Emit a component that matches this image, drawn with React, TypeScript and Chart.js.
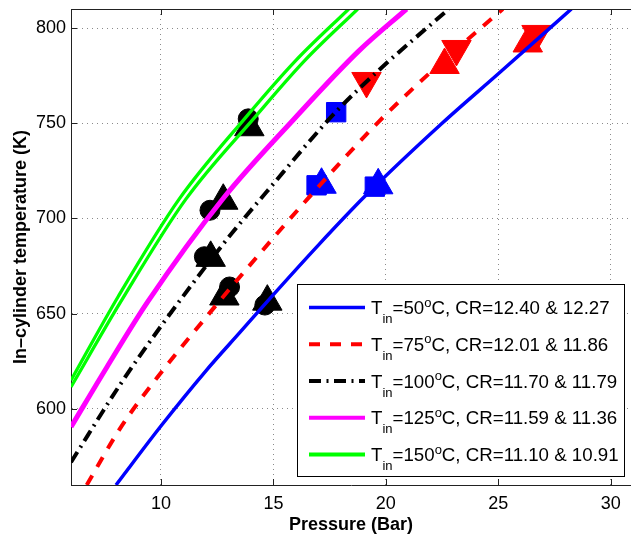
import React, { useEffect, useRef } from 'react';
import { Chart, registerables } from 'chart.js';

Chart.register(...registerables);

// Axes
const X_MIN = 6;
const X_MAX = 30.9;
const Y_MIN = 560;
const Y_MAX = 810;
const X_TICKS = [10, 15, 20, 25, 30];
const Y_TICKS = [600, 650, 700, 750, 800];

// Curves (pressure in bar, temperature in K)
const P_50 = [8.0, 10, 12, 13.5, 15, 17, 19.1, 22.5, 25, 28.25];
const T_50 = [560, 591, 620, 640, 660, 686, 712, 750, 776, 810];

const P_75 = [6.7, 8.2, 10, 12, 13.2, 16.5, 19.7, 22.1, 25.2];
const T_75 = [560, 590, 619, 648, 665, 710, 751, 778, 810];

const P_100 = [6.0, 8.2, 10.1, 13.0, 14.7, 17.7, 19.7, 22.8];
const T_100 = [572, 613, 645, 690, 714, 755, 778, 810];

const P_125 = [6.0, 7.6, 9.4, 12.8, 15.9, 18.8, 20.92];
const T_125 = [590.5, 622, 656, 711, 752, 788, 810];

const P_150A = [6.0, 8.1, 10.8, 13.8, 16.0, 18.35];
const T_150A = [615, 659, 710, 753.5, 783, 810];
const P_150B = [6.0, 8.2, 11.1, 14.2, 16.4, 18.75];
const T_150B = [611.5, 656, 710, 753.5, 783, 810];

// Marker points
const BLACK_CIRCLE_P = [13.88, 12.18, 11.93, 13.05, 14.62];
const BLACK_CIRCLE_T = [752.3, 704.3, 679.9, 664, 654.5];
const BLACK_TRI_P = [13.93, 12.77, 12.21, 12.82, 14.73];
const BLACK_TRI_T = [747.9, 709.3, 679.3, 659, 656.3];

const BLUE_SQ_P = [17.79, 16.92, 19.51];
const BLUE_SQ_T = [755.8, 717.4, 716.7];
const BLUE_TRI_P = [17.14, 19.66];
const BLUE_TRI_T = [717.7, 717.4];

const RED_DOWN_P = [19.14, 23.14, 26.7];
const RED_DOWN_T = [772.2, 789, 796.9];
const RED_UP_P = [22.61, 26.31];
const RED_UP_T = [780.6, 791.9];

// Legend
const TEMPS = ['50', '75', '100', '125', '150'];
const CR_A = ['12.40', '12.01', '11.70', '11.59', '11.10'];
const CR_B = ['12.27', '11.86', '11.79', '11.36', '10.91'];
const COLORS = ['#0000ff', '#ff0000', '#000000', '#ff00ff', '#00ff00'];
const DASHES: number[][] = [[], [11, 10], [12, 5.5, 2, 5.5], [], []];
const WIDTHS = [3.5, 4, 4, 5, 3.3];
const LEGEND_WIDTHS = [3.5, 4, 4, 4, 4];

const FONT = '"Liberation Sans", Arial, Helvetica, sans-serif';

const pts = (xs: number[], ys: number[]) => xs.map((x, i) => ({ x, y: ys[i] }));

const lineDs = (xs: number[], ys: number[], idx: number) => ({
  data: pts(xs, ys),
  showLine: true,
  borderColor: COLORS[idx],
  backgroundColor: COLORS[idx],
  borderWidth: WIDTHS[idx],
  borderDash: DASHES[idx],
  pointRadius: 0,
  cubicInterpolationMode: 'monotone' as const,
  order: 0,
});

const markerDs = (xs: number[], ys: number[], color: string, style: string, radius: number, rotation = 0) => ({
  data: pts(xs, ys),
  showLine: false,
  pointStyle: style,
  pointRadius: radius,
  pointRotation: rotation,
  pointBackgroundColor: color,
  pointBorderColor: color,
  pointBorderWidth: 1,
  order: 1,
});

const zeroPad = (s: any) => {
  s.paddingTop = 0;
  s.paddingBottom = 0;
  s.paddingLeft = 0;
  s.paddingRight = 0;
};

const framePlugin = {
  id: 'frame',
  afterDatasetsDraw(chart: any) {
    const { ctx, chartArea: a, scales } = chart;
    ctx.save();
    ctx.strokeStyle = '#222';
    ctx.lineWidth = 1;
    ctx.setLineDash([]);
    ctx.beginPath();
    ctx.moveTo(a.left, Math.round(a.top) + 0.5);
    ctx.lineTo(a.right, Math.round(a.top) + 0.5);
    X_TICKS.forEach((v) => {
      const x = Math.round(scales.x.getPixelForValue(v)) + 0.5;
      ctx.moveTo(x, a.bottom);
      ctx.lineTo(x, a.bottom - 6);
      ctx.moveTo(x, a.top);
      ctx.lineTo(x, a.top + 6);
    });
    Y_TICKS.forEach((v) => {
      const y = Math.round(scales.y.getPixelForValue(v)) + 0.5;
      ctx.moveTo(a.left, y);
      ctx.lineTo(a.left + 6, y);
    });
    ctx.stroke();
    ctx.restore();
  },
};

const legendPlugin = {
  id: 'texLegend',
  afterDraw(chart: any) {
    const { ctx, chartArea: a } = chart;
    const bx = Math.round(a.right - 334) + 0.5;
    const by = Math.round(a.bottom - 201) + 0.5;
    const bw = 327;
    const bh = 192;
    ctx.save();
    ctx.fillStyle = '#ffffff';
    ctx.fillRect(bx, by, bw, bh);
    ctx.strokeStyle = '#000';
    ctx.lineWidth = 1;
    ctx.setLineDash([]);
    ctx.strokeRect(bx, by, bw, bh);
    const main = `18.7px ${FONT}`;
    const small = `13px ${FONT}`;
    TEMPS.forEach((t, i) => {
      const ly = by + 23 + i * 36.75;
      ctx.beginPath();
      ctx.setLineDash(DASHES[i]);
      ctx.strokeStyle = COLORS[i];
      ctx.lineWidth = LEGEND_WIDTHS[i];
      ctx.moveTo(bx + 11.5, ly);
      ctx.lineTo(bx + 67.5, ly);
      ctx.stroke();
      ctx.setLineDash([]);
      const base = ly + 6.5;
      let x = bx + 73.5;
      ctx.fillStyle = '#000';
      ctx.textAlign = 'left';
      ctx.textBaseline = 'alphabetic';
      ctx.font = main;
      ctx.fillText('T', x, base);
      x += ctx.measureText('T').width;
      ctx.font = small;
      ctx.fillText('in', x, base + 9);
      x += ctx.measureText('in').width;
      ctx.font = main;
      const s1 = '=' + t;
      ctx.fillText(s1, x, base);
      x += ctx.measureText(s1).width;
      ctx.font = small;
      ctx.fillText('o', x, base - 7.5);
      x += ctx.measureText('o').width;
      ctx.font = main;
      ctx.fillText(`C, CR=${CR_A[i]} & ${CR_B[i]}`, x, base);
    });
    ctx.restore();
  },
};

export default function App() {
  const ref = useRef<HTMLCanvasElement | null>(null);
  useEffect(() => {
    if (!ref.current) return;
    const chart = new Chart(ref.current, {
      type: 'scatter',
      data: {
        datasets: [
          lineDs(P_50, T_50, 0),
          lineDs(P_75, T_75, 1),
          lineDs(P_100, T_100, 2),
          lineDs(P_125, T_125, 3),
          lineDs(P_150A, T_150A, 4),
          lineDs(P_150B, T_150B, 4),
          markerDs(BLACK_CIRCLE_P, BLACK_CIRCLE_T, '#000000', 'circle', 10),
          markerDs(BLACK_TRI_P, BLACK_TRI_T, '#000000', 'triangle', 17),
          markerDs(BLUE_SQ_P, BLUE_SQ_T, '#0000ff', 'rect', 13.7),
          markerDs(BLUE_TRI_P, BLUE_TRI_T, '#0000ff', 'triangle', 17),
          markerDs(RED_DOWN_P, RED_DOWN_T, '#ff0000', 'triangle', 17, 180),
          markerDs(RED_UP_P, RED_UP_T, '#ff0000', 'triangle', 17),
        ] as any,
      },
      options: {
        responsive: false,
        animation: false,
        devicePixelRatio: 1,
        layout: { autoPadding: false, padding: { top: 9, left: 0, right: 0, bottom: 0 } },
        plugins: { legend: { display: false }, tooltip: { enabled: false } },
        scales: {
          x: {
            type: 'linear',
            min: X_MIN,
            max: X_MAX,
            afterBuildTicks: (s: any) => {
              s.ticks = X_TICKS.map((v) => ({ value: v }));
            },
            afterFit: (s: any) => {
              s.height = 52;
              zeroPad(s);
            },
            grid: { color: '#8a8a8a', lineWidth: 1, drawTicks: false },
            border: { display: true, color: '#222', width: 1, dash: [1, 4] },
            ticks: {
              padding: 8,
              color: '#000',
              font: { family: FONT, size: 18 },
              autoSkip: false,
              maxRotation: 0,
              callback: (v: any) => String(v),
            },
            title: {
              display: true,
              text: 'Pressure (Bar)',
              color: '#000',
              font: { family: FONT, size: 18, weight: 'bold' },
              padding: { top: 0, bottom: 1.5 },
            },
          },
          y: {
            type: 'linear',
            min: Y_MIN,
            max: Y_MAX,
            afterBuildTicks: (s: any) => {
              s.ticks = Y_TICKS.map((v) => ({ value: v }));
            },
            afterFit: (s: any) => {
              s.width = 71;
              zeroPad(s);
            },
            grid: { color: '#8a8a8a', lineWidth: 1, drawTicks: false },
            border: { display: true, color: '#222', width: 1, dash: [1, 4] },
            ticks: {
              padding: 5,
              color: '#000',
              font: { family: FONT, size: 18 },
              autoSkip: false,
              callback: (v: any) => String(v),
            },
            title: {
              display: true,
              text: 'In–cylinder temperature (K)',
              color: '#000',
              font: { family: FONT, size: 18, weight: 'bold' },
              padding: { top: 10, bottom: 0 },
            },
          },
        },
      } as any,
      plugins: [framePlugin, legendPlugin],
    });
    return () => chart.destroy();
  }, []);

  return (
    <div style={{ position: 'fixed', left: 0, top: 0, width: 631, height: 537, background: '#fff' }}>
      <canvas ref={ref} width={631} height={537} style={{ display: 'block' }} />
    </div>
  );
}
